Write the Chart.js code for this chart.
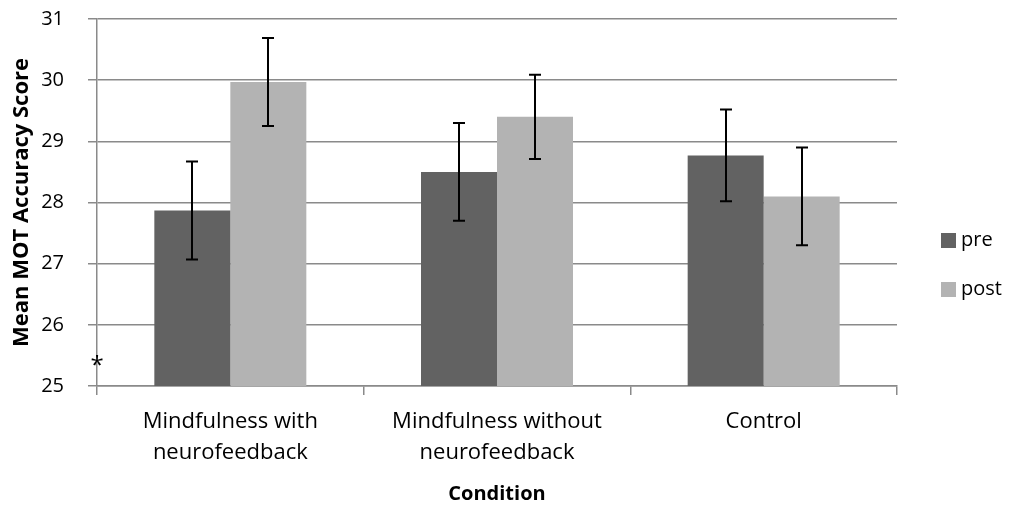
<!DOCTYPE html>
<html>
<head>
<meta charset="utf-8">
<script src="https://cdn.jsdelivr.net/npm/chart.js@4"></script>
<style>
  html, body { margin: 0; padding: 0; background: #fff; }
  #wrap { width: 1015px; height: 508px; }
</style>
</head>
<body>
<div id="wrap"><canvas id="chart" width="1015" height="508"></canvas></div>
<script>
// data
const conditions = [["Mindfulness with", "neurofeedback"], ["Mindfulness without", "neurofeedback"], "Control"];
const seriesNames = ["pre", "post"];
const seriesColors = ["#626262", "#b3b3b3"];
const preScores = [27.87, 28.5, 28.77];
const postScores = [29.97, 29.4, 28.1];
const preErrors = [0.8, 0.8, 0.75];
const postErrors = [0.72, 0.69, 0.8];

const FONT = "'Open Sans', 'Liberation Sans', sans-serif";

// error bars, asterisk and the legend on the right
const extras = {
  id: "extras",
  afterDatasetsDraw(chart) {
    const ctx = chart.ctx;
    const y = chart.scales.y;
    const errs = [preErrors, postErrors];
    ctx.save();
    ctx.strokeStyle = "#000";
    ctx.lineWidth = 2;
    chart.data.datasets.forEach((ds, i) => {
      const meta = chart.getDatasetMeta(i);
      meta.data.forEach((bar, j) => {
        const v = ds.data[j];
        const top = y.getPixelForValue(v + errs[i][j]);
        const bot = y.getPixelForValue(v - errs[i][j]);
        const x = Math.round(bar.x);
        ctx.beginPath();
        ctx.moveTo(x, top); ctx.lineTo(x, bot);
        ctx.moveTo(x - 6, top); ctx.lineTo(x + 6, top);
        ctx.moveTo(x - 6, bot); ctx.lineTo(x + 6, bot);
        ctx.stroke();
      });
    });

    ctx.fillStyle = "#000";
    ctx.font = "24px " + FONT;
    ctx.textAlign = "center";
    ctx.textBaseline = "middle";
    ctx.fillText("*", chart.chartArea.left, y.getPixelForValue(25.4) + 5);

    // legend
    const area = chart.chartArea;
    ctx.font = "20px " + FONT;
    ctx.textAlign = "left";
    seriesNames.forEach((name, i) => {
      const cy = 240 + i * 49;
      ctx.fillStyle = seriesColors[i];
      ctx.fillRect(area.right + 44, cy - 7, 15, 15);
      ctx.fillStyle = "#000";
      ctx.fillText(name, area.right + 64, cy);
    });
    ctx.restore();
  }
};

new Chart(document.getElementById("chart"), {
  type: "bar",
  data: {
    labels: conditions,
    datasets: [
      { label: seriesNames[0], data: preScores, backgroundColor: seriesColors[0] },
      { label: seriesNames[1], data: postScores, backgroundColor: seriesColors[1] }
    ]
  },
  options: {
    responsive: false,
    animation: false,
    layout: { padding: { top: 19, right: 118, left: 4, bottom: 0 } },
    datasets: { bar: { barPercentage: 1, categoryPercentage: 0.57 } },
    plugins: {
      tooltip: { enabled: false },
      legend: { display: false }
    },
    scales: {
      y: {
        min: 25,
        max: 31,
        afterFit: (s) => { s.width = 93; s.paddingTop = 0; s.paddingBottom = 0; },
        ticks: { stepSize: 1, color: "#000", padding: 24, font: { family: FONT, size: 20 } },
        grid: { color: "#8a8a8a", lineWidth: 1.5, tickLength: 9 },
        border: { color: "#8a8a8a", width: 1.5 },
        title: { display: true, text: "Mean MOT Accuracy Score", color: "#000", padding: { top: 5, bottom: 0 }, font: { family: FONT, size: 22, weight: "bold" } }
      },
      x: {
        afterFit: (s) => { s.height = 122; },
        ticks: { color: "#000", padding: 11, font: { family: FONT, size: 22, lineHeight: 1.41 } },
        grid: { offset: true, drawOnChartArea: false, color: "#8a8a8a", lineWidth: 1.5, tickLength: 9 },
        border: { color: "#8a8a8a", width: 1.5 },
        title: { display: true, text: "Condition", color: "#000", padding: { top: 4, bottom: 2 }, font: { family: FONT, size: 20, weight: "bold" } }
      }
    }
  },
  plugins: [extras]
});
</script>
</body>
</html>
